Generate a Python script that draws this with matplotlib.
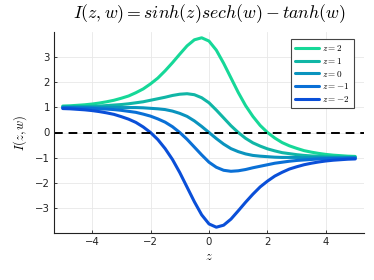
import numpy as np
import matplotlib
matplotlib.use("Agg")
from matplotlib import pyplot as plt

plt.rcParams['mathtext.fontset'] = 'cm'
plt.rcParams['font.family'] = ['DejaVu Sans']

# x positions, -5 .. 5 every 0.25
z = [-5.0, -4.75, -4.5, -4.25, -4.0, -3.75, -3.5, -3.25, -3.0, -2.75,
     -2.5, -2.25, -2.0, -1.75, -1.5, -1.25, -1.0, -0.75, -0.5, -0.25,
     0.0, 0.25, 0.5, 0.75, 1.0, 1.25, 1.5, 1.75, 2.0, 2.25,
     2.5, 2.75, 3.0, 3.25, 3.5, 3.75, 4.0, 4.25, 4.5, 4.75, 5.0]

I_p2 = [1.05, 1.06, 1.08, 1.10, 1.13, 1.17, 1.22, 1.28, 1.36, 1.45,
        1.58, 1.73, 1.93, 2.16, 2.45, 2.77, 3.11, 3.44, 3.68, 3.76,
        3.63, 3.27, 2.75, 2.17, 1.59, 1.07, 0.64, 0.28, 0.00, -0.22,
        -0.40, -0.53, -0.63, -0.72, -0.78, -0.83, -0.87, -0.90, -0.92, -0.94, -0.95]
I_p1 = [1.02, 1.02, 1.03, 1.03, 1.04, 1.05, 1.07, 1.09, 1.11, 1.14,
        1.18, 1.22, 1.28, 1.34, 1.40, 1.47, 1.52, 1.54, 1.50, 1.38,
        1.18, 0.89, 0.58, 0.27, 0.00, -0.23, -0.41, -0.54, -0.65, -0.73,
        -0.80, -0.84, -0.88, -0.91, -0.93, -0.94, -0.96, -0.97, -0.97, -0.98, -0.98]
I_0 = [1.00, 1.00, 1.00, 1.00, 1.00, 1.00, 1.00, 1.00, 0.99, 0.99,
       0.99, 0.98, 0.96, 0.94, 0.91, 0.85, 0.76, 0.64, 0.46, 0.24,
       0.00, -0.24, -0.46, -0.64, -0.76, -0.85, -0.91, -0.94, -0.96, -0.98,
       -0.99, -0.99, -0.99, -1.00, -1.00, -1.00, -1.00, -1.00, -1.00, -1.00, -1.00]
I_m1 = [0.98, 0.98, 0.97, 0.97, 0.96, 0.94, 0.93, 0.91, 0.88, 0.84,
        0.80, 0.73, 0.65, 0.54, 0.41, 0.23, 0.00, -0.27, -0.58, -0.89,
        -1.18, -1.38, -1.50, -1.54, -1.52, -1.47, -1.40, -1.34, -1.28, -1.22,
        -1.18, -1.14, -1.11, -1.09, -1.07, -1.05, -1.04, -1.03, -1.03, -1.02, -1.02]
I_m2 = [0.95, 0.94, 0.92, 0.90, 0.87, 0.83, 0.78, 0.72, 0.63, 0.53,
        0.40, 0.22, 0.00, -0.28, -0.64, -1.07, -1.59, -2.17, -2.75, -3.27,
        -3.63, -3.76, -3.68, -3.44, -3.11, -2.77, -2.45, -2.16, -1.93, -1.73,
        -1.58, -1.45, -1.36, -1.28, -1.22, -1.17, -1.13, -1.10, -1.08, -1.06, -1.05]

series = [I_p2, I_p1, I_0, I_m1, I_m2]
labels = [r'$z = 2$', r'$z = 1$', r'$z = 0$', r'$z = -1$', r'$z = -2$']
colors = ['#16d898', '#10b6a6', '#0a94be', '#0a70d6', '#0a4fd8']

fig = plt.figure(figsize=(3.74, 2.8), dpi=100)
ax = fig.add_axes([54/374, 1 - 233/280, 310/374, 201/280])

for y, lab, c in zip(series, labels, colors):
    ax.plot(z, y, color=c, lw=2.2, label=lab, solid_capstyle='round',
            solid_joinstyle='round')
ax.axhline(0, color='black', lw=1.4, ls=(0, (4.5, 3)))

ax.set_xlim(-5.3, 5.3)
ax.set_ylim(-3.99, 3.99)
ax.set_xticks([-4, -2, 0, 2, 4])
ax.set_yticks([-3, -2, -1, 0, 1, 2, 3])
ax.set_xticklabels(['\u22124', '\u22122', '0', '2', '4'])
ax.set_yticklabels(['\u22123', '\u22122', '\u22121', '0', '1', '2', '3'])
ax.grid(True, color='#e8e8e8', lw=0.6)
ax.set_axisbelow(True)
for s in ['top', 'right']:
    ax.spines[s].set_visible(False)
for s in ['left', 'bottom']:
    ax.spines[s].set_linewidth(0.8)
    ax.spines[s].set_color('#222222')
ax.tick_params(direction='in', length=2.5, width=0.6, labelsize=7.3, pad=3, colors='#222222')

ax.set_title(r'$I(z, w) = sinh(z)sech(w) - tanh(w)$', fontsize=12.8, pad=10)
ax.set_xlabel(r'$z$', fontsize=9, labelpad=2)
ax.set_ylabel(r'$I(z, w)$', fontsize=9, labelpad=4)

leg = ax.legend(loc='upper right', bbox_to_anchor=(0.968, 0.965), borderaxespad=0,
                fontsize=6.6, fancybox=False, framealpha=1, edgecolor='#444444',
                handlelength=2.7, handletextpad=0.3, labelspacing=0.3,
                borderpad=0.45)
leg.get_frame().set_linewidth(0.8)

fig.savefig('out.png', dpi=100)
